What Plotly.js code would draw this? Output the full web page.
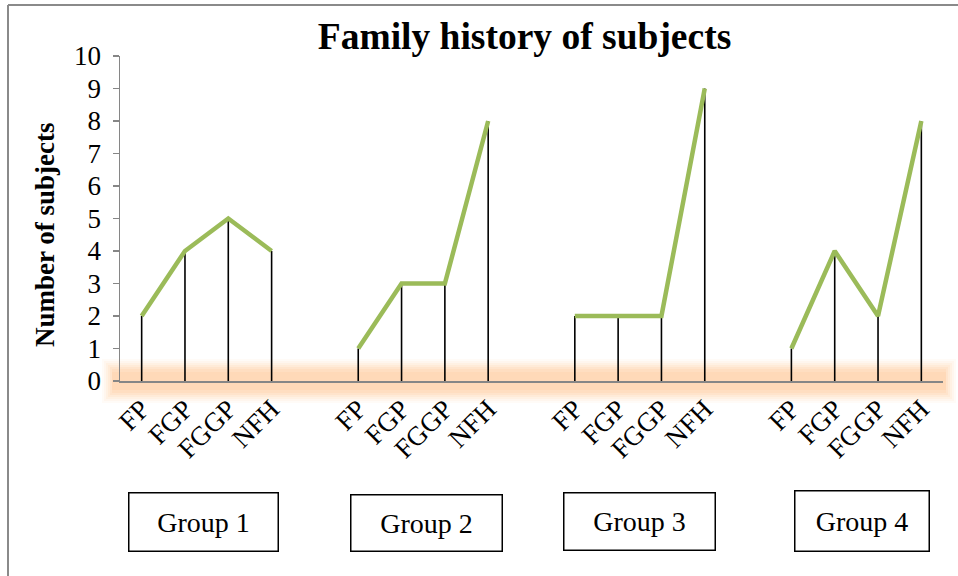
<!DOCTYPE html>
<html>
<head>
<meta charset="utf-8">
<script src="https://cdn.plot.ly/plotly-3.0.1.min.js"></script>
<style>html,body{margin:0;padding:0;background:#fff;}#chart{width:958px;height:576px;}</style>
</head>
<body>
<div id="chart"></div>
<script>
// ---- data ----
var categories = ["FP", "FGP", "FGGP", "NFH"];
var groups = ["Group 1", "Group 2", "Group 3", "Group 4"];
var group1 = [2, 4, 5, 4];
var group2 = [1, 3, 3, 8];
var group3 = [2, 2, 2, 9];
var group4 = [1, 4, 2, 8];
var yTicks = [0, 1, 2, 3, 4, 5, 6, 7, 8, 9, 10];

var series = [group1, group2, group3, group4];

// ---- layout geometry (pixels) ----
var W = 958, H = 576;
var L = 120, R = 943, T = 56, B = 381;
var fx = function (px) { return (px - L) / (R - L); };
var fy = function (py) { return (B - py) / (B - T); };

var FONT = '"Liberation Serif", "Times New Roman", serif';

var traces = [];
var tickvals = [], ticktext = [];
series.forEach(function (vals, g) {
  var xs = vals.map(function (v, i) { return g * 5 + i; });
  xs.forEach(function (x, i) { tickvals.push(x); ticktext.push(categories[i]); });
  traces.push({
    type: "scatter",
    mode: "lines",
    x: xs,
    y: vals,
    name: groups[g],
    showlegend: false,
    hoverinfo: "x+y",
    line: { color: "#9BBB59", width: 4.5 },
    error_y: {
      type: "data",
      symmetric: false,
      array: vals.map(function () { return 0; }),
      arrayminus: vals,
      color: "#000000",
      thickness: 1.6,
      width: 0
    }
  });
});

var shapes = [];
// soft orange glow along the zero line
[[44, 0.07, 10], [40, 0.08, 8], [36, 0.10, 6], [32, 0.12, 4], [28, 0.14, 2], [24, 0.16, 0], [18, 0.16, 0]].forEach(function (s) {
  shapes.push({
    type: "line", layer: "below",
    xref: "paper", yref: "paper",
    x0: fx(112 - s[2]), x1: fx(946 + s[2]), y0: 0, y1: 0,
    line: { color: "rgba(252,194,138," + s[1] + ")", width: s[0] }
  });
});
// outer frame
shapes.push({ type: "line", xref: "paper", yref: "paper", x0: fx(8), x1: fx(960), y0: fy(5), y1: fy(5), line: { color: "#8a8a8a", width: 2 } });
shapes.push({ type: "line", xref: "paper", yref: "paper", x0: fx(8), x1: fx(8), y0: fy(5), y1: fy(580), line: { color: "#8a8a8a", width: 2 } });

// group boxes [cx, cy, w, h]
var boxes = [[203, 521.5, 150, 59], [426, 522.5, 152, 57], [639, 521, 152, 58], [861.5, 520.5, 135, 61]];
var annotations = boxes.map(function (b, i) {
  return {
    text: groups[i],
    xref: "paper", yref: "paper",
    x: fx(b[0]), y: fy(b[1]),
    xanchor: "center", yanchor: "middle",
    showarrow: false,
    width: b[2] - 2, height: b[3] - 2,
    borderpad: 0,
    bordercolor: "#000", borderwidth: 1.5,
    bgcolor: "#fff",
    font: { family: FONT, size: 28, color: "#000" }
  };
});
// y axis title
annotations.push({
  text: "<b>Number of subjects</b>",
  xref: "paper", yref: "paper",
  x: fx(45), y: fy(235),
  xanchor: "center", yanchor: "middle",
  textangle: -90,
  showarrow: false,
  font: { family: FONT, size: 27, color: "#000" }
});

var layout = {
  width: W, height: H,
  margin: { l: L, r: W - R, t: T, b: H - B, pad: 0 },
  paper_bgcolor: "#fff",
  plot_bgcolor: "rgba(0,0,0,0)",
  title: {
    text: "<b>Family history of subjects</b>",
    font: { family: FONT, size: 37.5, color: "#000" },
    x: fx(524.5), xref: "paper", xanchor: "center",
    y: 1 - 36 / H, yref: "container", yanchor: "middle"
  },
  xaxis: {
    range: [-0.5, 18.5],
    tickmode: "array",
    tickvals: tickvals,
    ticktext: ticktext,
    tickangle: -45,
    ticks: "",
    showgrid: false,
    zeroline: false,
    showline: true,
    linecolor: "#868686",
    linewidth: 1.5,
    tickfont: { family: FONT, size: 27, color: "#000" },
    fixedrange: true
  },
  yaxis: {
    range: [0, 10],
    tickmode: "array",
    tickvals: yTicks,
    ticks: "outside",
    ticklen: 6,
    tickcolor: "#868686",
    tickwidth: 1.2,
    ticklabelstandoff: 6,
    showgrid: false,
    zeroline: false,
    showline: true,
    linecolor: "#868686",
    linewidth: 1.5,
    tickfont: { family: FONT, size: 27, color: "#000" },
    fixedrange: true
  },
  shapes: shapes,
  annotations: annotations,
  showlegend: false
};

Plotly.newPlot("chart", traces, layout, { displayModeBar: false, staticPlot: true });
</script>
</body>
</html>
